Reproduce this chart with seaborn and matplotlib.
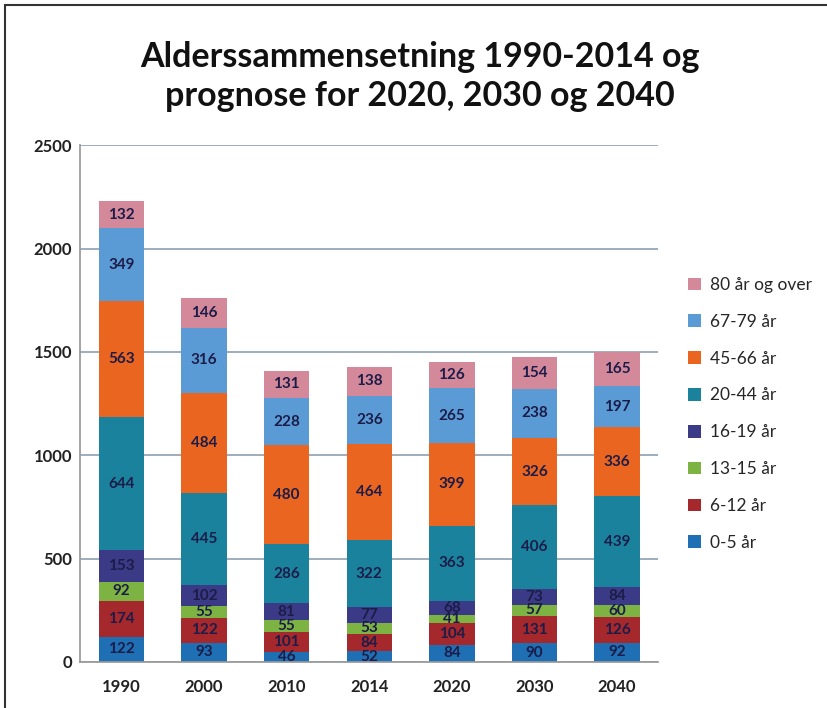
import matplotlib
matplotlib.use("Agg")
import matplotlib.pyplot as plt
import seaborn as sns
import pandas as pd
import numpy as np

years = ["1990", "2000", "2010", "2014", "2020", "2030", "2040"]
groups = ["80 år og over", "67-79 år", "45-66 år", "20-44 år",
          "16-19 år", "13-15 år", "6-12 år", "0-5 år"]
v_0_5 = [122, 93, 46, 52, 84, 90, 92]
v_6_12 = [174, 122, 101, 84, 104, 131, 126]
v_13_15 = [92, 55, 55, 53, 41, 57, 60]
v_16_19 = [153, 102, 81, 77, 68, 73, 84]
v_20_44 = [644, 445, 286, 322, 363, 406, 439]
v_45_66 = [563, 484, 480, 464, 399, 326, 336]
v_67_79 = [349, 316, 228, 236, 265, 238, 197]
v_80 = [132, 146, 131, 138, 126, 154, 165]
colors = ["#d4899a", "#5b9bd5", "#ea6520", "#1b829e",
          "#3b3a86", "#7cb342", "#a5282c", "#1f6fb5"]

series = [v_80, v_67_79, v_45_66, v_20_44, v_16_19, v_13_15, v_6_12, v_0_5]
rows = []
for g, vals in zip(groups, series):
    for i, v in enumerate(vals):
        rows.append({"pos": i, "group": g, "value": v})
df = pd.DataFrame(rows)

sns.set_theme(style="white")
plt.rcParams["font.family"] = ["Lato", "DejaVu Sans"]

fig = plt.figure(figsize=(8.27, 7.08), dpi=100)
ax = fig.add_axes([0.097, 0.065, 0.699, 0.730])

sns.histplot(data=df, x="pos", weights="value", hue="group", hue_order=groups,
             multiple="stack", discrete=True, shrink=0.55, palette=colors,
             alpha=1, linewidth=0, ax=ax)

for cont in ax.containers:
    ax.bar_label(cont, label_type="center", fontsize=11, color="#1c1c48",
                 fontweight="bold")

ax.set_xlim(-0.5, 6.5)
ax.set_ylim(0, 2500)
ax.set_yticks([0, 500, 1000, 1500, 2000, 2500])
ax.set_yticklabels(["0", "500", "1000", "1500", "2000", "2500"],
                   fontsize=12, fontweight="bold", color="#222222")
ax.set_xticks(range(7))
ax.set_xticklabels(years, fontsize=12, fontweight="bold", color="#222222")
ax.set_xticks(np.arange(-0.5, 7, 1), minor=True)
ax.tick_params(axis="x", which="major", length=0, pad=12)
ax.tick_params(axis="x", which="minor", length=5, color="#888888", direction="out")
ax.tick_params(axis="y", length=0, pad=6)
ax.set_xlabel("")
ax.set_ylabel("")
ax.yaxis.grid(True, color="#8da0b0", linewidth=1.2)
ax.set_axisbelow(True)
for s in ["top", "right"]:
    ax.spines[s].set_visible(False)
ax.spines["left"].set_color("#999999")
ax.spines["bottom"].set_color("#999999")

sns.move_legend(ax, loc="center left", bbox_to_anchor=(1.025, 0.48), title=None,
                frameon=False, fontsize=12.5, labelspacing=1.2,
                handlelength=0.75, handleheight=0.75, handletextpad=0.5)

fig.text(0.508, 0.892, "Alderssammensetning 1990-2014 og\nprognose for 2020, 2030 og 2040",
         ha="center", va="center", fontsize=24.5, fontweight="bold",
         color="#111111", linespacing=1.25)

fig.patches.append(plt.Rectangle((0.006, -0.01), 1.1, 1.003, transform=fig.transFigure,
                                 fill=False, edgecolor="#333333", linewidth=1.5))

fig.savefig("out.png", dpi=100)
